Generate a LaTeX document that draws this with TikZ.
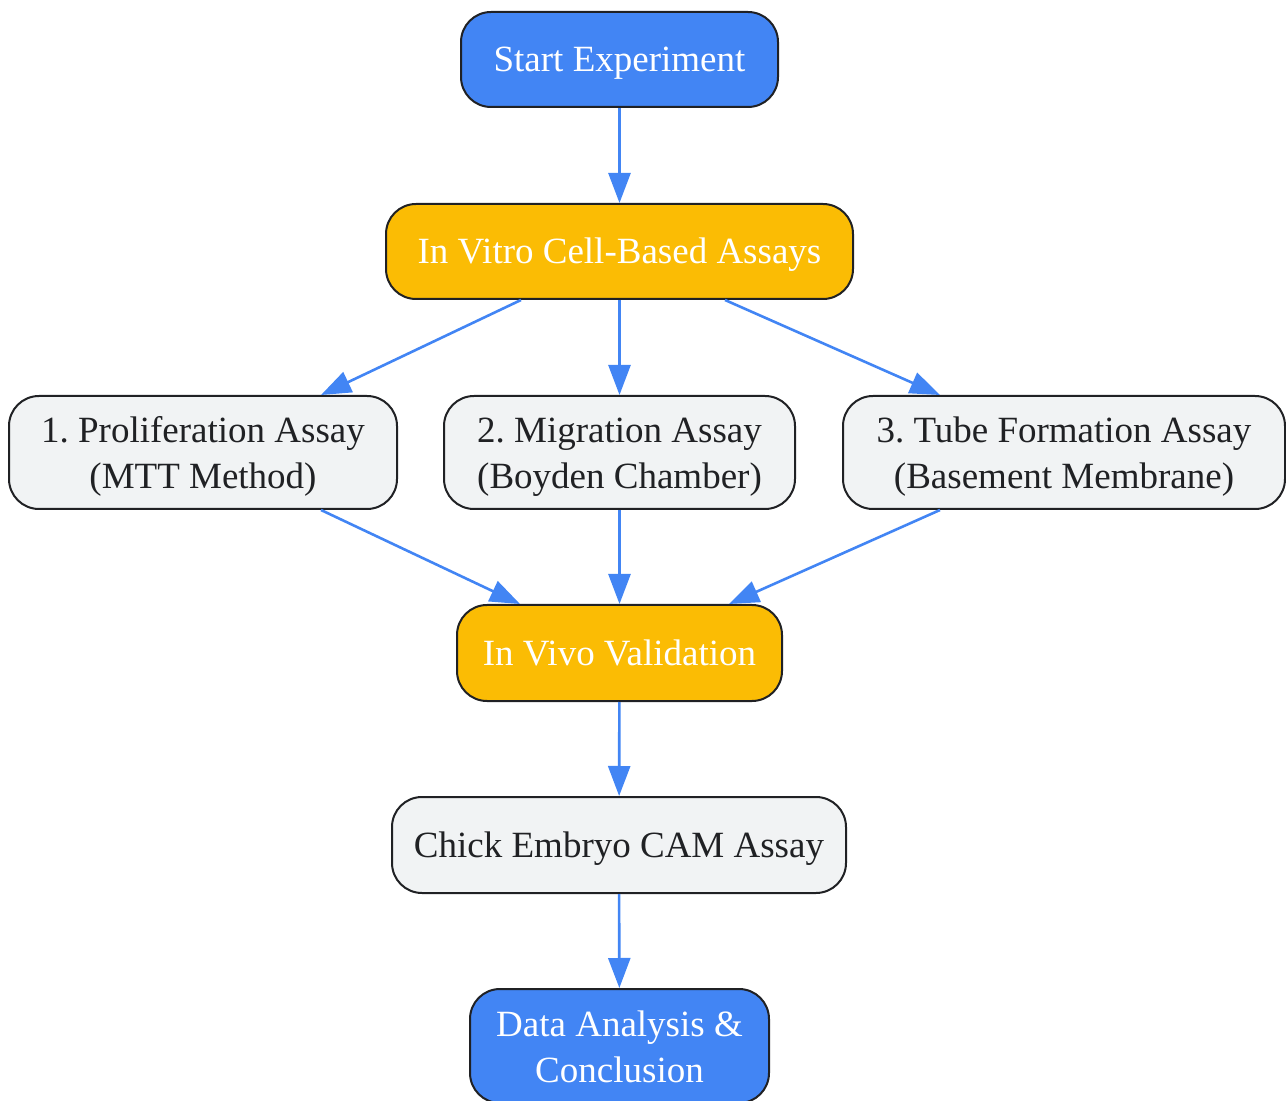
\documentclass[tikz,border=0pt]{standalone}
\usepackage{fontspec}
\setmainfont{Liberation Serif}
\usetikzlibrary{arrows.meta}
\definecolor{gblue}{HTML}{4285F4}
\definecolor{gyellow}{HTML}{FBBC04}
\definecolor{ggray}{HTML}{F1F3F4}
\definecolor{gdark}{HTML}{202124}
\frenchspacing

\begin{document}
\begin{tikzpicture}[x=0.5pt,y=-0.5pt,
    box/.style={draw=gdark,line width=1pt,rounded corners=15pt,align=center,inner sep=0pt,
        font=\fontsize{18.5}{23}\selectfont,minimum height=47.5pt,text height=16.5pt,text depth=4.25pt},
    twoline/.style={text height=40pt,text depth=4pt},
    term/.style={box,fill=gblue,text=white},
    phase/.style={box,fill=gyellow,text=white},
    assay/.style={box,fill=ggray,text=gdark},
    flow/.style={-{Triangle[length=15pt,width=11pt]},draw=gblue,line width=1.3pt}]
    \useasboundingbox (0,0) rectangle (1286,1101);
    \node[term,minimum width=158.5pt] (start) at (619.5,59.5){Start Experiment};
    \node[phase,minimum width=233.5pt] (vitro) at (619.5,251.5){In Vitro Cell-Based Assays};
    \node[assay,twoline,minimum width=194pt,minimum height=56.5pt] (prolif) at (203,452.5){1. Proliferation Assay\\(MTT Method)};
    \node[assay,twoline,minimum width=175.5pt,minimum height=56.5pt] (migr) at (619.5,452.5){2. Migration Assay\\(Boyden Chamber)};
    \node[assay,twoline,minimum width=221pt,minimum height=56.5pt] (tube) at (1064,452.5){3. Tube Formation Assay\\(Basement Membrane)};
    \node[phase,minimum width=162.5pt,minimum height=48pt] (vivo) at (619.5,653){In Vivo Validation};
    \node[assay,minimum width=227pt,minimum height=48pt] (cam) at (619,845){Chick Embryo CAM Assay};
    \node[term,twoline,minimum width=149.5pt,minimum height=57pt] (data) at (619.5,1046){Data Analysis \&\\Conclusion};
    \draw[flow] (start) -- (vitro);
    \draw[flow] ([xshift=-49.25pt]vitro.south) -- ([xshift=59pt]prolif.north);
    \draw[flow] (vitro) -- (migr);
    \draw[flow] ([xshift=52.75pt]vitro.south) -- ([xshift=-62pt]tube.north);
    \draw[flow] ([xshift=59pt]prolif.south) -- ([xshift=-49.75pt]vivo.north);
    \draw[flow] (migr) -- (vivo);
    \draw[flow] ([xshift=-62pt]tube.south) -- ([xshift=54.75pt]vivo.north);
    \draw[flow] (vivo) -- (cam);
    \draw[flow] (cam) -- (data);
\end{tikzpicture}
\end{document}
